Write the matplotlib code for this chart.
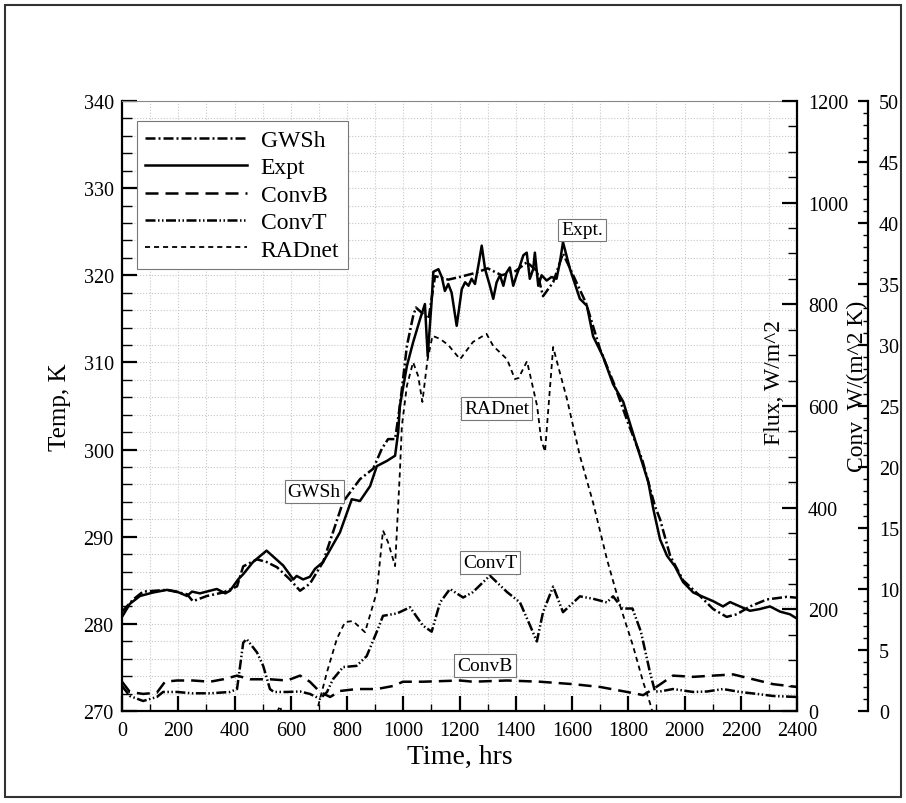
import numpy as np
import matplotlib
matplotlib.use("Agg")
import matplotlib.pyplot as plt
from matplotlib.ticker import MultipleLocator
from matplotlib.patches import Rectangle

plt.rcParams['font.family'] = ['Liberation Serif', 'DejaVu Serif']

# ---- data ----
expt_t = [0, 28, 64, 111, 160, 195, 231, 249, 277, 313, 337, 367, 384, 413, 431, 466, 514,
          573, 609, 621, 644, 668, 686, 715, 745, 775, 817, 846, 882, 906, 942, 971, 982,
          988, 1013, 1035, 1060, 1077, 1087, 1101, 1107, 1125, 1137, 1148, 1160, 1172, 1190,
          1208, 1220, 1232, 1243, 1255, 1267, 1279, 1291, 1308, 1320, 1332, 1344, 1356,
          1367, 1379, 1391, 1403, 1415, 1427, 1439, 1450, 1462, 1468, 1480, 1492, 1510,
          1527, 1545, 1557, 1568, 1593, 1628, 1653, 1675, 1710, 1746, 1782, 1831,
          1871, 1889, 1913, 1938, 1966, 1995, 2031, 2066, 2102, 2137, 2162, 2197, 2233,
          2268, 2304, 2340, 2375, 2400]
expt_T = [280.8, 282.3, 283.2, 283.6, 283.9, 283.7, 283.2, 283.7, 283.5, 283.8, 284.0, 283.5,
          283.8, 285.1, 285.7, 287.1, 288.4, 286.7, 285.1, 285.5, 285.1, 285.4, 286.3, 287.1,
          288.8, 290.5, 294.3, 294.1, 295.8, 298.1, 298.7, 299.3, 302.0, 305.0, 309.6,
          312.3, 315.0, 316.7, 310.7, 317.1, 320.4, 320.7, 319.8, 318.2, 319.0, 318.0, 314.2,
          318.4, 319.2, 318.8, 319.6, 319.0, 321.1, 323.4, 320.7, 318.8, 317.3, 319.2,
          320.0, 318.8, 320.3, 320.9, 318.8, 320.0, 321.1, 322.3, 322.6, 319.6, 320.7,
          322.6, 318.8, 320.0, 319.4, 319.8, 319.6, 321.5, 323.8, 320.7, 317.3, 316.5, 313.0,
          310.7, 307.5, 305.5, 300.4, 296.3, 293.2, 289.7, 287.8, 286.6, 284.8, 283.6,
          283.1, 282.6, 282.0, 282.5, 282.0, 281.5, 281.7, 282.0, 281.4, 281.1, 280.6]

gwsh_t = [0, 40, 75, 160, 231, 252, 302, 360, 409, 431, 480, 514, 551, 597, 633, 668, 715,
          750, 786, 846, 893, 924, 946, 971, 988, 1013, 1035, 1045, 1090, 1113, 1160, 1200,
          1260, 1300, 1350, 1400, 1440, 1475, 1497, 1533, 1568, 1600, 1650, 1700, 1750,
          1800, 1850, 1895, 1913, 1949, 1995, 2055, 2102, 2150, 2186, 2233, 2293, 2364, 2400]
gwsh_T = [281.4, 282.8, 283.7, 283.9, 283.4, 282.6, 283.2, 283.6, 284.3, 286.6, 287.4, 287.1,
          286.5, 285.1, 283.8, 284.6, 287.1, 290.5, 294.0, 296.6, 297.8, 300.1, 301.2, 301.2,
          305.0, 311.9, 315.3, 316.3, 315.0, 319.9, 319.5, 319.8, 320.3, 320.8, 320.0,
          320.5, 321.5, 320.5, 317.6, 319.2, 322.5, 320.3, 316.8, 311.5, 307.5, 303.0,
          298.8, 293.5, 292.0, 287.8, 285.0, 283.2, 281.7, 280.8, 281.1, 282.0, 282.8,
          283.1, 283.0]

convb_t = [0, 28, 75, 124, 153, 195, 252, 313, 360, 409, 455, 526, 587, 633, 668, 704, 740,
           775, 834, 906, 964, 999, 1070, 1202, 1248, 1369, 1486, 1604, 1700, 1796, 1853,
           1889, 1959, 2031, 2102, 2173, 2244, 2315, 2400]
convb_h = [2.4, 1.56, 1.4, 1.5, 2.4, 2.5, 2.5, 2.4, 2.6, 2.9, 2.6, 2.6, 2.5, 2.9, 2.4, 1.56,
           1.15, 1.64, 1.8, 1.8, 2.05, 2.4, 2.4, 2.5, 2.4, 2.5, 2.4, 2.2, 1.97, 1.56, 1.3,
           1.8, 2.9, 2.8, 2.9, 3.0, 2.6, 2.2, 1.97]

convt_t = [0, 28, 75, 124, 146, 195, 250, 313, 384, 409, 431, 443, 480, 502, 526, 540, 587,
           633, 668, 704, 729, 750, 786, 834, 870, 906, 928, 978, 1024, 1070, 1101, 1131,
           1166, 1213, 1248, 1308, 1369, 1415, 1451, 1475, 1497, 1533, 1568, 1628, 1675,
           1724, 1746, 1780, 1815, 1845, 1877, 1895, 1913, 1959, 2031, 2080, 2137, 2197,
           2258, 2315, 2400]
convt_h = [2.05, 1.23, 0.82, 1.15, 1.56, 1.56, 1.45, 1.45, 1.56, 1.8, 5.6, 5.9, 4.8, 3.7,
           1.8, 1.56, 1.56, 1.6, 1.4, 1.0, 1.56, 2.6, 3.6, 3.7, 4.5, 6.5, 7.8, 8.0, 8.5, 7.0,
           6.5, 8.9, 10.0, 9.3, 9.75, 11.1, 9.75, 8.9, 7.0, 5.7, 8.1, 10.2, 8.1, 9.4, 9.2,
           8.9, 9.4, 8.4, 8.4, 6.5, 3.2, 1.6, 1.6, 1.8, 1.56, 1.6, 1.8, 1.56, 1.4, 1.23, 1.15]

rad_t = [0, 500, 545, 562, 580, 640, 668, 693, 729, 764, 793, 821, 864, 906, 928, 946, 971,
         988, 995, 1013, 1035, 1053, 1068, 1086, 1104, 1131, 1160, 1202, 1248, 1296, 1320,
         1369, 1397, 1410, 1440, 1476, 1490, 1504, 1533, 1547, 1582, 1628, 1675, 1724,
         1771, 1817, 1853, 1877, 1895, 2000, 2400]
rad_q = [-150, -60, -10, 10, -30, -30, -5, 0, 77, 142, 175, 177, 155, 234, 355, 332, 285,
         470, 560, 640, 686, 659, 608, 690, 738, 732, 720, 692, 726, 742, 718, 692, 653,
         655, 688, 600, 535, 510, 716, 686, 614, 502, 410, 299, 207, 128, 57, 16, -20,
         -120, -150]

labels = ["GWSh", "Expt", "ConvB", "ConvT", "RADnet"]

fig = plt.figure(figsize=(9.06, 8.04), dpi=100)
fig.patches.append(Rectangle((5 / 906, 6 / 804), 896 / 906, 792 / 804, transform=fig.transFigure,
                             fill=False, edgecolor='#333333', lw=1.5))

ax = fig.add_axes([122 / 906, 92 / 804, 675 / 906, 610 / 804])
ax2 = ax.twinx()
ax3 = ax.twinx()

lw = 1.8
l_gw, = ax.plot(gwsh_t, gwsh_T, color='black', lw=lw, dashes=(4, 1.2, 0.8, 1.2))
l_ex, = ax.plot(expt_t, expt_T, color='black', lw=lw)
l_cb, = ax3.plot(convb_t, convb_h, color='black', lw=lw, dashes=(5.2, 2.8))
l_ct, = ax3.plot(convt_t, convt_h, color='black', lw=lw, dashes=(4, 1, 0.6, 1, 0.6, 1))
l_rd, = ax2.plot(rad_t, rad_q, color='black', lw=1.3, dashes=(2.8, 2.2))

ax.set_xlim(0, 2400)
ax.set_ylim(270, 340)
ax2.set_ylim(0, 1200)
ax3.set_ylim(0, 50)

ax.xaxis.set_major_locator(MultipleLocator(200))
ax.xaxis.set_minor_locator(MultipleLocator(100))
ax.yaxis.set_major_locator(MultipleLocator(10))
ax.yaxis.set_minor_locator(MultipleLocator(2))
ax2.yaxis.set_major_locator(MultipleLocator(200))
ax2.yaxis.set_minor_locator(MultipleLocator(50))
ax3.yaxis.set_major_locator(MultipleLocator(5))
ax3.yaxis.set_minor_locator(MultipleLocator(1))

ax.grid(True, which='both', linestyle=':', color='#c8c8c8', lw=0.8)
ax.set_axisbelow(True)

for s in ['left', 'bottom']:
    ax.spines[s].set_linewidth(1.6)
ax.spines['top'].set_linewidth(0.8)
ax.spines['top'].set_color('#888888')
ax.spines['right'].set_visible(False)

for a in (ax2, ax3):
    for s in ['left', 'bottom', 'top']:
        a.spines[s].set_visible(False)
ax2.spines['right'].set_linewidth(1.6)
ax3.spines['right'].set_position(('axes', 746 / 675))
ax3.spines['right'].set_linewidth(1.6)

fs_tick = 14.5
ax.tick_params(axis='both', which='both', direction='in', labelsize=fs_tick, top=False, right=False)
ax.tick_params(axis='y', which='major', length=10.8, width=1.6, pad=6)
ax.tick_params(axis='y', which='minor', length=7, width=1)
ax.tick_params(axis='x', which='major', length=10.8, width=1.6, pad=7)
ax.tick_params(axis='x', which='minor', length=5, width=1)

ax2.tick_params(axis='y', which='both', direction='in', labelsize=fs_tick)
ax2.tick_params(axis='y', which='major', length=10.8, width=1.6, pad=8)
ax2.tick_params(axis='y', which='minor', length=6.5, width=1)

ax3.tick_params(axis='y', which='both', direction='in', labelsize=fs_tick)
ax3.tick_params(axis='y', which='major', length=7.2, width=1.6, pad=8)
ax3.tick_params(axis='y', which='minor', length=3.6, width=1)

ax.set_xlabel("Time, hrs", fontsize=20)
ax.xaxis.set_label_coords(0.5, -0.054)
ax.set_ylabel("Temp, K", fontsize=18)
ax.yaxis.set_label_coords(-0.076, 0.5)
ax3.text(0.966, 0.54, "Flux, W/m^2", transform=ax.transAxes, rotation=90,
         ha='center', va='center', fontsize=17)
ax3.text(1.089, 0.534, "Conv  W/(m^2 K)", transform=ax.transAxes, rotation=90,
         ha='center', va='center', fontsize=17)

# boxed curve labels
box = dict(boxstyle='square,pad=0.15', facecolor='white', edgecolor='#777777', lw=0.8)
for txt, xx, yy in [("Expt.", 1636, 325.2), ("RADnet", 1332, 304.7), ("GWSh", 683, 295.2),
                    ("ConvT", 1308, 287.0), ("ConvB", 1291, 275.2)]:
    ax3.text(xx, yy, txt, transform=ax.transData, ha='center', va='center',
             fontsize=14, bbox=box)

leg = ax3.legend([l_gw, l_ex, l_cb, l_ct, l_rd], labels, loc='upper left',
                 bbox_to_anchor=(0.022, 0.967), borderaxespad=0, fontsize=17,
                 handlelength=4.3, handletextpad=0.6, labelspacing=0.25,
                 fancybox=False, framealpha=1, edgecolor='#777777', borderpad=0.35)
leg.get_frame().set_linewidth(0.8)

fig.savefig("out.png", dpi=100)
